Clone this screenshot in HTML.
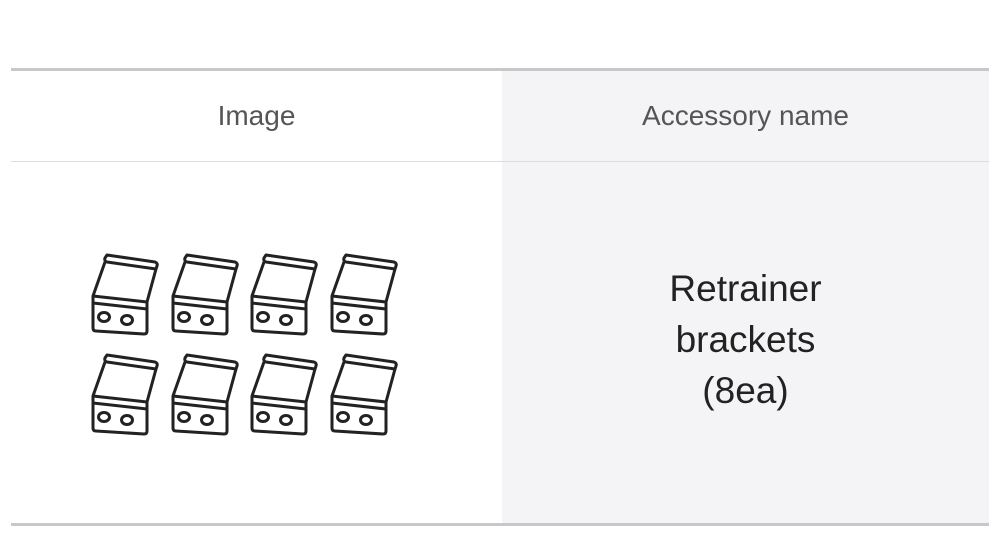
<!DOCTYPE html>
<html><head><style>
body{margin:0;width:1000px;height:560px;background:#fff;font-family:"Liberation Sans",sans-serif;position:relative;overflow:hidden}
.abs{position:absolute}
</style></head><body>
<div class="abs" style="left:502px;top:70px;width:487px;height:454px;background:#f4f4f6"></div>
<div class="abs" style="left:11px;top:68px;width:978px;height:3px;background:#c8c8c8"></div>
<div class="abs" style="left:11px;top:161px;width:978px;height:1px;background:#dcdcdc"></div>
<div class="abs" style="left:11px;top:523px;width:978px;height:3px;background:#c8c8c8"></div>
<div class="abs" style="left:11px;top:100px;width:491px;text-align:center;font-size:28px;color:#555">Image</div>
<div class="abs" style="left:502px;top:100px;width:487px;text-align:center;font-size:28px;color:#555">Accessory name</div>
<div class="abs" style="left:502px;top:263px;width:487px;text-align:center;font-size:37px;line-height:51px;color:#222">Retrainer<br>brackets<br>(8ea)</div>
<svg class="abs" style="left:0;top:0" width="1000" height="560">
<defs><g id="b" fill="none" stroke="#222" stroke-width="3" stroke-linejoin="round">
<path d="M17,3 L65,10 Q68,11 67,14 L66,17 L17,10 Q14,9 15,6 Z"/>
<path d="M15,10 L3,44 L3,76 Q3,79 6,79 L54,82 Q57,82 57,79 L57,50 L66,17"/>
<path d="M3,44 L57,50 M3,51 L57,57"/>
<ellipse cx="14" cy="65" rx="5.5" ry="4.5"/><ellipse cx="37" cy="68" rx="5.5" ry="4.5"/>
</g></defs>
<use href="#b" x="90" y="252"/><use href="#b" x="170" y="252"/><use href="#b" x="249" y="252"/><use href="#b" x="329" y="252"/>
<use href="#b" x="90" y="352"/><use href="#b" x="170" y="352"/><use href="#b" x="249" y="352"/><use href="#b" x="329" y="352"/>
</svg>
</body></html>
